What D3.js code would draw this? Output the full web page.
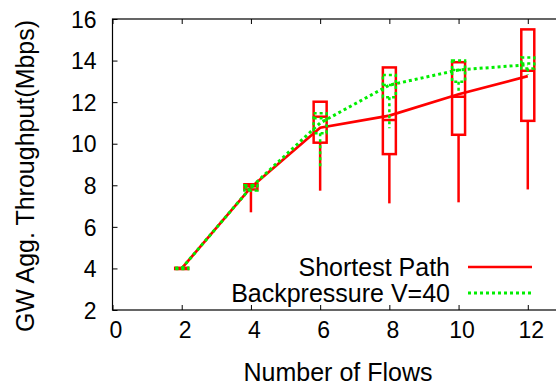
<!DOCTYPE html>
<html lang="en">
<head>
    <meta charset="utf-8">
    <title>gw_throughput</title>
    <script type="text/javascript" src="https://d3js.org/d3.v7.min.js"></script>
    <style type="text/css">
        body { margin: 0; background: #fff; }
        text { font-family: "Liberation Sans", Arial, sans-serif; fill: #000; }
    </style>
</head>
<body>

<script type="text/javascript">

    // number of flows
    var flows = [2, 4, 6, 8, 10, 12];

    // Shortest Path: mean line + box stats
    var sp_mean   = [4.0, 7.9, 10.77, 11.35, 12.38, 13.25];
    var sp_low    = [3.97, 6.7, 7.74, 7.13, 7.18, 7.8];
    var sp_q1     = [3.97, 7.8, 10.05, 9.5, 10.43, 11.1];
    var sp_median = [4.0, 7.95, 11.3, 11.14, 12.26, 13.51];
    var sp_q3     = [4.03, 8.05, 12.02, 13.67, 13.92, 15.5];

    // Backpressure V=40
    var bp_mean   = [4.0, 7.9, 11.0, 12.82, 13.55, 13.8];
    var bp_low    = [3.97, 7.7, 8.9, 10.74, 12.42, 13.3];
    var bp_q1     = [3.97, 7.75, 10.5, 12.23, 12.98, 13.62];
    var bp_median = [4.0, 7.9, 11.22, 12.82, 13.55, 13.86];
    var bp_q3     = [4.03, 8.0, 11.46, 13.3, 14.0, 14.15];

    var x_ticks = [0, 2, 4, 6, 8, 10, 12];
    var y_ticks = [2, 4, 6, 8, 10, 12, 14, 16];

    var width = 556, height = 390;
    var box_w = 13;

    var svg = d3.select("body")
        .append("svg")
        .attr("width", width)
        .attr("height", height);

    var x = d3.scaleLinear().domain([0, 14]).range([112.5, 597]);
    var y = d3.scaleLinear().domain([2, 16]).range([310, 19]);

    // frame
    svg.append("rect")
        .attr("x", x(0))
        .attr("y", y(16))
        .attr("width", x(14) - x(0))
        .attr("height", y(2) - y(16))
        .attr("fill", "none")
        .attr("stroke", "#000")
        .attr("stroke-width", 1.2);

    // axes, ticks pointing inward
    var xAxis = svg.append("g")
        .attr("transform", "translate(0," + y(2) + ")")
        .call(d3.axisBottom(x).tickValues(x_ticks).tickSize(-5).tickSizeOuter(0).tickPadding(12));
    svg.append("g")
        .attr("transform", "translate(0," + y(16) + ")")
        .call(d3.axisTop(x).tickValues(x_ticks).tickSize(-5).tickSizeOuter(0).tickFormat(""));
    var yAxis = svg.append("g")
        .attr("transform", "translate(" + x(0) + ",0)")
        .call(d3.axisLeft(y).tickValues(y_ticks).tickSize(-5).tickSizeOuter(0).tickPadding(16));

    svg.selectAll(".domain").remove();
    svg.selectAll(".tick line").attr("stroke", "#000");
    xAxis.selectAll("text").attr("font-size", 23).attr("dx", 3);
    yAxis.selectAll("text").attr("font-size", 23).attr("dy", "0.36em");

    svg.append("text")
        .attr("transform", "translate(34," + 176 + ") rotate(-90)")
        .attr("text-anchor", "middle")
        .attr("font-size", 25)
        .text("GW Agg. Throughput(Mbps)");

    svg.append("text")
        .attr("x", 338)
        .attr("y", 381)
        .attr("text-anchor", "middle")
        .attr("font-size", 25)
        .text("Number of Flows");

    function draw_boxes(low, q1, med, q3, color, dash) {
        var g = svg.append("g")
            .attr("stroke", color)
            .attr("stroke-width", 2.5)
            .attr("fill", "none")
            .attr("stroke-dasharray", dash);
        var rows = flows.map((f, i) => ({f: f, low: low[i], q1: q1[i], med: med[i], q3: q3[i]}));
        g.selectAll("line.whisker")
            .data(rows)
            .enter()
            .append("line")
            .attr("x1", d => x(d.f))
            .attr("x2", d => x(d.f))
            .attr("y1", d => y(d.q1))
            .attr("y2", d => y(d.low));
        g.selectAll("rect")
            .data(rows)
            .enter()
            .append("rect")
            .attr("x", d => x(d.f) - box_w / 2)
            .attr("width", box_w)
            .attr("y", d => y(d.q3))
            .attr("height", d => Math.max(y(d.q1) - y(d.q3), 0.5));
        g.selectAll("line.median")
            .data(rows)
            .enter()
            .append("line")
            .attr("x1", d => x(d.f) - box_w / 2)
            .attr("x2", d => x(d.f) + box_w / 2)
            .attr("y1", d => y(d.med))
            .attr("y2", d => y(d.med));
    }

    var line = d3.line()
        .x((d, i) => x(flows[i]))
        .y(d => y(d));

    draw_boxes(sp_low, sp_q1, sp_median, sp_q3, "#ff0000", null);
    svg.append("path")
        .attr("d", line(sp_mean))
        .attr("fill", "none")
        .attr("stroke", "#ff0000")
        .attr("stroke-width", 2.7);

    draw_boxes(bp_low, bp_q1, bp_median, bp_q3, "#00ee00", "3,3");
    svg.append("path")
        .attr("d", line(bp_mean))
        .attr("fill", "none")
        .attr("stroke", "#00ee00")
        .attr("stroke-width", 3)
        .attr("stroke-dasharray", "3,3");

    // legend
    var legend = [
        {name: "Shortest Path", color: "#ff0000", dash: null, w: 2.7},
        {name: "Backpressure V=40", color: "#00ee00", dash: "3,3", w: 3}
    ];
    var lg = svg.append("g");
    lg.selectAll("text")
        .data(legend)
        .enter()
        .append("text")
        .attr("x", 450)
        .attr("y", (d, i) => 275.5 + i * 26)
        .attr("text-anchor", "end")
        .attr("font-size", 25)
        .text(d => d.name);
    lg.selectAll("line")
        .data(legend)
        .enter()
        .append("line")
        .attr("x1", 468)
        .attr("x2", 532)
        .attr("y1", (d, i) => 267 + i * 26)
        .attr("y2", (d, i) => 267 + i * 26)
        .attr("stroke", d => d.color)
        .attr("stroke-width", d => d.w)
        .attr("stroke-dasharray", d => d.dash);

</script>
</body>
</html>
